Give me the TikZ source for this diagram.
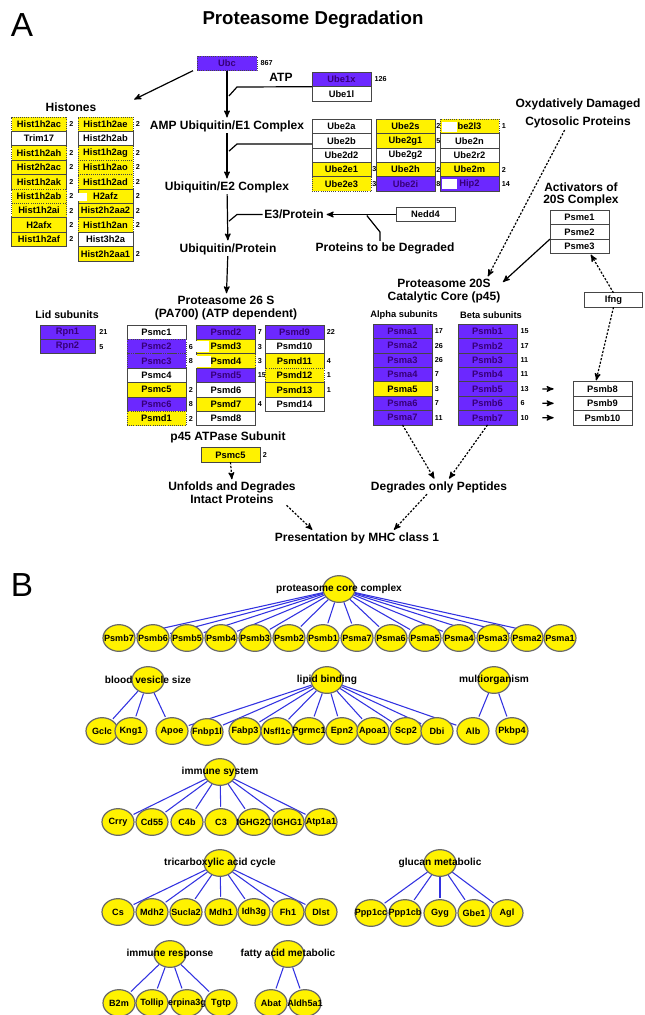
\documentclass[tikz,border=0pt]{standalone}
\usepackage{fontspec}
\setmainfont{Liberation Sans}
\usetikzlibrary{arrows,positioning,shapes.geometric}

\definecolor{pv}{RGB}{108,40,255}
\definecolor{pvtext}{RGB}{55,0,120}
\definecolor{boxline}{RGB}{70,70,70}
\definecolor{linkblue}{RGB}{50,50,225}
\definecolor{rim}{RGB}{105,105,105}

\pgfdeclarelayer{bg}
\pgfsetlayers{bg,main}

\begin{document}
\begin{tikzpicture}[x=0.75pt,y=-0.75pt,>=stealth',shorten >=1pt,node distance=10.8pt,
	box/.style={draw=boxline,line width=0.6pt,minimum width=44.25pt,minimum height=10.8pt,inner sep=0pt,outer sep=0pt,font=\fontsize{7}{8}\selectfont\bfseries},
	yel/.style={box,fill=yellow},
	pur/.style={box,fill=pv,text=pvtext},
	wht/.style={box,fill=white},
	dbox/.style={densely dotted},
	hist/.style={minimum width=41.25pt},
	num/.style={inner sep=0pt,font=\fontsize{5.4}{6}\selectfont\bfseries},
	lbl/.style={align=center,inner sep=1pt,font=\fontsize{9}{9.5}\selectfont\bfseries},
	subl/.style={inner sep=1pt,font=\fontsize{7}{8}\selectfont\bfseries},
	panel/.style={inner sep=0pt,font=\fontsize{25}{30}\selectfont},
	gene/.style={ellipse,draw=rim,fill=yellow,line width=0.9pt,minimum width=24pt,minimum height=20pt,inner sep=0pt},
	tl/.style={font=\fontsize{7.6}{9}\selectfont\bfseries},
	every label/.style={inner sep=0pt,font=\fontsize{6.8}{8}\selectfont\bfseries},
	link/.style={draw=linkblue,line width=0.8pt},
	flow/.style={->,line width=0.9pt},
	dar/.style={->,line width=0.9pt,dash pattern=on 1.6pt off 1.2pt}]

\begin{pgfonlayer}{bg}
\fill[white] (0,0) rectangle (644,1015);
\end{pgfonlayer}
\useasboundingbox (0,0) rectangle (644,1015);

\node[panel] (pa) at (22,25) {A};
\node[lbl,font=\fontsize{14}{16}\selectfont\bfseries] (title) at (313,20) {Proteasome Degradation};

\node[lbl] (hist) at (71,107) {Histones};
\node[yel,hist,dbox] (h1) at (39,124.2) {Hist1h2ac};
\node[wht,hist] (h2) [below of=h1] {Trim17};
\node[yel,hist,dbox] (h3) [below of=h2] {Hist1h2ah};
\node[yel,hist] (h4) [below of=h3] {Hist2h2ac};
\node[yel,hist] (h5) [below of=h4] {Hist1h2ak};
\node[yel,hist,dbox] (h6) [below of=h5] {Hist1h2ab};
\node[yel,hist,dbox] (h7) [below of=h6] {Hist1h2ai};
\node[yel,hist] (h8) [below of=h7] {H2afx};
\node[yel,hist] (h9) [below of=h8] {Hist1h2af};
\node[yel,hist,dbox] (h10) at (105.5,124.2) {Hist1h2ae};
\node[wht,hist] (h11) [below of=h10] {Hist2h2ab};
\node[yel,hist,dbox] (h12) [below of=h11] {Hist1h2ag};
\node[yel,hist,dbox] (h13) [below of=h12] {Hist1h2ao};
\node[yel,hist,dbox] (h14) [below of=h13] {Hist1h2ad};
\node[yel,hist] (h15) [below of=h14] {H2afz};
\node[yel,hist] (h16) [below of=h15] {Hist2h2aa2};
\node[yel,hist,dbox] (h17) [below of=h16] {Hist1h2an};
\node[wht,hist] (h18) [below of=h17] {Hist3h2a};
\node[yel,hist] (h19) [below of=h18] {Hist2h2aa1};
\fill[white] ([shift={(-0.5pt,1.5pt)}]h15.south west) rectangle +(7.5pt,6.5pt);
\node[num] (h1n) [right=2pt of h1] {2};
\node[num] (h3n) [right=2pt of h3] {2};
\node[num] (h4n) [right=2pt of h4] {2};
\node[num] (h5n) [right=2pt of h5] {2};
\node[num] (h6n) [right=2pt of h6] {2};
\node[num] (h7n) [right=2pt of h7] {2};
\node[num] (h8n) [right=2pt of h8] {2};
\node[num] (h9n) [right=2pt of h9] {2};
\node[num] (h10n) [right=2pt of h10] {2};
\node[num] (h12n) [right=2pt of h12] {2};
\node[num] (h13n) [right=2pt of h13] {2};
\node[num] (h14n) [right=2pt of h14] {2};
\node[num] (h15n) [right=2pt of h15] {2};
\node[num] (h16n) [right=2pt of h16] {2};
\node[num] (h17n) [right=2pt of h17] {2};
\node[num] (h19n) [right=2pt of h19] {2};

\node[pur,dbox,minimum width=45pt] (ubc) at (227,63.5) {Ubc};
\node[num] (ubcn) [right=2.5pt of ubc] {867};
\node[lbl] (atp) at (281,77) {ATP};
\node[pur] (ube1x) at (341.5,79.5) {Ube1x};
\node[wht] (ube1l) [below of=ube1x] {Ube1l};
\node[num] (ube1xn) [right=2.5pt of ube1x] {126};

\node[wht] (u1) at (341.5,126.3) {Ube2a};
\node[wht] (u2) [below of=u1] {Ube2b};
\node[wht] (u3) [below of=u2] {Ube2d2};
\node[yel] (u4) [below of=u3] {Ube2e1};
\node[yel,dbox] (u5) [below of=u4] {Ube2e3};
\node[yel] (u6) at (405.5,126.3) {Ube2s};
\node[yel] (u7) [below of=u6] {Ube2g1};
\node[wht] (u8) [below of=u7] {Ube2g2};
\node[yel] (u9) [below of=u8] {Ube2h};
\node[pur] (u10) [below of=u9] {Ube2i};
\node[yel,dbox] (u11) at (469.5,126.3) {be2l3};
\node[wht] (u12) [below of=u11] {Ube2n};
\node[wht] (u13) [below of=u12] {Ube2r2};
\node[yel] (u14) [below of=u13] {Ube2m};
\node[pur] (u15) [below of=u14] {Hip2};
\fill[white] ([shift={(1.5pt,1.5pt)}]u11.south west) rectangle +(11pt,7.5pt);
\fill[white] ([shift={(1.5pt,1.5pt)}]u15.south west) rectangle +(11.5pt,7.5pt);
\node[num] (u4n) [right=0.8pt of u4] {3};
\node[num] (u5n) [right=0.8pt of u5] {3};
\node[num] (u6n) [right=0.8pt of u6] {2};
\node[num] (u7n) [right=0.8pt of u7] {5};
\node[num] (u9n) [right=0.8pt of u9] {2};
\node[num] (u10n) [right=0.8pt of u10] {8};
\node[num] (u11n) [right=2pt of u11] {1};
\node[num] (u14n) [right=2pt of u14] {2};
\node[num] (u15n) [right=2pt of u15] {14};

\node[lbl] (e1) at (227,126) {AMP Ubiquitin/E1 Complex};
\node[lbl] (e2) at (227,187) {Ubiquitin/E2 Complex};
\node[lbl] (e3) at (294,214.5) {E3/Protein};
\node[lbl] (ubprot) at (228,249) {Ubiquitin/Protein};
\node[lbl] (ptd) at (385,248) {Proteins to be Degraded};
\node[wht] (nedd4) at (425.5,214.5) {Nedd4};
\node[lbl] (p26) at (226,308) {Proteasome 26 S\\(PA700) (ATP dependent)};

\coordinate (histin) at (133,100);
\coordinate (j1) at (228,97);
\coordinate (k1) at (237,87);
\coordinate (j2) at (228,152);
\coordinate (k2) at (237,144);
\coordinate (j3) at (228,222);
\coordinate (k3) at (237,214.5);
\coordinate (k4) at (380,232);
\coordinate (j4) at (366,214.5);

\draw[flow] ([xshift=-3pt]ubc.south west) -- (histin);
\draw[flow] (ubc) -- (e1);
\draw[flow] (e1) -- (e2);
\draw[flow] (e2) -- (ubprot);
\draw[flow] (ubprot) -- (p26);
\draw[line width=0.9pt] (ube1x.south west) -- (k1) -- (j1);
\draw[line width=0.9pt] ([yshift=-2.5pt]u2.west) -- (k2) -- (j2);
\draw[line width=0.9pt] (e3.west) -- (k3) -- (j3);
\draw[flow] (nedd4) -- (e3);
\draw[line width=0.9pt] (ptd.north -| k4) -- (k4) -- (j4);

\node[lbl,font=\fontsize{8}{9}\selectfont\bfseries] (lid) at (67,315) {Lid subunits};
\node[pur,hist] (rpn1) at (67.5,332.2) {Rpn1};
\node[pur,hist] (rpn2) [below of=rpn1] {Rpn2};
\node[num] (rpn1n) [right=3pt of rpn1] {21};
\node[num] (rpn2n) [right=3pt of rpn2] {5};

\node[wht] (pc1) at (156.5,332.2) {Psmc1};
\node[pur,dbox] (pc2) [below of=pc1] {Psmc2};
\node[pur,dbox] (pc3) [below of=pc2] {Psmc3};
\node[wht] (pc4) [below of=pc3] {Psmc4};
\node[yel] (pc5) [below of=pc4] {Psmc5};
\node[pur] (pc6) [below of=pc5] {Psmc6};
\node[yel,dbox] (pd1) [below of=pc6] {Psmd1};
\node[num] (pc2n) [right=2pt of pc2] {6};
\node[num] (pc3n) [right=2pt of pc3] {8};
\node[num] (pc5n) [right=2pt of pc5] {2};
\node[num] (pc6n) [right=2pt of pc6] {8};
\node[num] (pd1n) [right=2pt of pd1] {2};

\node[pur] (pd2) at (226,332.2) {Psmd2};
\node[yel] (pd3) [below of=pd2] {Psmd3};
\node[yel,dbox] (pd4) [below of=pd3] {Psmd4};
\node[pur] (pd5) [below of=pd4] {Psmd5};
\node[wht] (pd6) [below of=pd5] {Psmd6};
\node[yel] (pd7) [below of=pd6] {Psmd7};
\node[wht] (pd8) [below of=pd7] {Psmd8};
\fill[white] ([shift={(-0.5pt,1pt)}]pd3.south west) rectangle +(10pt,8.5pt);
\fill[white] ([shift={(-0.5pt,1pt)}]pd4.south west) rectangle +(11pt,8pt);
\node[num] (pd2n) [right=1.5pt of pd2] {7};
\node[num] (pd3n) [right=1.5pt of pd3] {3};
\node[num] (pd4n) [right=1.5pt of pd4] {3};
\node[num] (pd5n) [right=1.5pt of pd5] {15};
\node[num] (pd7n) [right=1.5pt of pd7] {4};

\node[pur] (pd9) at (294.5,332.2) {Psmd9};
\node[wht] (pd10) [below of=pd9] {Psmd10};
\node[yel] (pd11) [below of=pd10] {Psmd11};
\node[yel,dbox] (pd12) [below of=pd11] {Psmd12};
\node[yel] (pd13) [below of=pd12] {Psmd13};
\node[wht] (pd14) [below of=pd13] {Psmd14};
\node[num] (pd9n) [right=2pt of pd9] {22};
\node[num] (pd11n) [right=2pt of pd11] {4};
\node[num] (pd12n) [right=2pt of pd12] {1};
\node[num] (pd13n) [right=2pt of pd13] {1};

\node[lbl] (p45) at (228,437) {p45 ATPase Subunit};
\node[yel] (p45b) at (230.5,455) {Psmc5};
\node[num] (p45n) [right=2pt of p45b] {2};
\node[lbl] (unf) at (232,493) {Unfolds and Degrades\\Intact Proteins};
\node[lbl] (dop) at (439,487) {Degrades only Peptides};
\node[lbl] (mhc) at (357,538) {Presentation by MHC class 1};

\node[lbl] (oxy) at (578,113.5) {Oxydatively Damaged\\[4.5pt]Cytosolic Proteins};
\node[lbl] (act) at (581,194.5) {Activators of\\20S Complex};
\node[wht] (psme1) at (579.5,217.5) {Psme1};
\node[wht] (psme2) [below of=psme1] {Psme2};
\node[wht] (psme3) [below of=psme2] {Psme3};
\node[wht,minimum width=43pt] (ifng) at (613.5,300) {Ifng};

\node[lbl] (p20) at (444,291) {Proteasome 20S\\Catalytic Core (p45)};
\node[subl] (alpha) at (404,315) {Alpha subunits};
\node[subl] (beta) at (491,315) {Beta subunits};

\node[pur] (a1) at (402.5,331.3) {Psma1};
\node[pur] (a2) [below of=a1] {Psma2};
\node[pur] (a3) [below of=a2] {Psma3};
\node[pur] (a4) [below of=a3] {Psma4};
\node[yel] (a5) [below of=a4] {Psma5};
\node[pur] (a6) [below of=a5] {Psma6};
\node[pur] (a7) [below of=a6] {Psma7};
\node[num] (a1n) [right=2pt of a1] {17};
\node[num] (a2n) [right=2pt of a2] {26};
\node[num] (a3n) [right=2pt of a3] {26};
\node[num] (a4n) [right=2pt of a4] {7};
\node[num] (a5n) [right=2pt of a5] {3};
\node[num] (a6n) [right=2pt of a6] {7};
\node[num] (a7n) [right=2pt of a7] {11};

\node[pur] (b1) at (487.5,331.3) {Psmb1};
\node[pur] (b2) [below of=b1] {Psmb2};
\node[pur] (b3) [below of=b2] {Psmb3};
\node[pur] (b4) [below of=b3] {Psmb4};
\node[pur] (b5) [below of=b4] {Psmb5};
\node[pur] (b6) [below of=b5] {Psmb6};
\node[pur] (b7) [below of=b6] {Psmb7};
\node[num] (b1n) [right=2.5pt of b1] {15};
\node[num] (b2n) [right=2.5pt of b2] {17};
\node[num] (b3n) [right=2.5pt of b3] {11};
\node[num] (b4n) [right=2.5pt of b4] {11};
\node[num] (b5n) [right=2.5pt of b5] {13};
\node[num] (b6n) [right=2.5pt of b6] {6};
\node[num] (b7n) [right=2.5pt of b7] {10};

\node[wht] (p8) at (602.5,388.9) {Psmb8};
\node[wht] (p9) [below of=p8] {Psmb9};
\node[wht] (p10) [below of=p9] {Psmb10};

\draw[dar] ([xshift=-10pt]oxy.south) -- ([xshift=-11pt]p20.north east);
\draw[flow] (psme2.south west) -- ([yshift=-4pt]p20.north east);
\draw[dar] (ifng.north) -- ([xshift=8pt]psme3.south);
\draw[dar] (ifng.south) -- ([xshift=-5pt]p8.north);
\draw[flow] ([xshift=19pt]b5.east) -- ([xshift=-13.5pt]p8.west);
\draw[flow] ([xshift=19pt]b6.east) -- ([xshift=-13.5pt]p9.west);
\draw[flow] ([xshift=19pt]b7.east) -- ([xshift=-13.5pt]p10.west);
\draw[dar] (a7.south) -- ([xshift=-3pt]dop.north);
\draw[dar] (b7.south) -- ([xshift=7pt]dop.north);
\draw[dar] (p45b.south) -- (unf.north);
\draw[dar] ([xshift=-8pt]unf.south east) -- ([xshift=30pt]mhc.north west);
\draw[dar] ([xshift=-9pt]dop.south) -- ([xshift=27pt]mhc.north);

\node[panel] (pb) at (22,585) {B};

\node[gene,label={[tl]center:proteasome core complex}] (pcc) at (339,589) {};
\node[gene,label=center:Psmb7] (cb7) at (119,638) {};
\node[gene,label=center:Psmb6] (cb6) at (153,638) {};
\node[gene,label=center:Psmb5] (cb5) at (187,638) {};
\node[gene,label=center:Psmb4] (cb4) at (221,638) {};
\node[gene,label=center:Psmb3] (cb3) at (255,638) {};
\node[gene,label=center:Psmb2] (cb2) at (289,638) {};
\node[gene,label=center:Psmb1] (cb1) at (323,638) {};
\node[gene,label=center:Psma7] (ca7) at (357,638) {};
\node[gene,label=center:Psma6] (ca6) at (391,638) {};
\node[gene,label=center:Psma5] (ca5) at (425,638) {};
\node[gene,label=center:Psma4] (ca4) at (459,638) {};
\node[gene,label=center:Psma3] (ca3) at (493,638) {};
\node[gene,label=center:Psma2] (ca2) at (527,638) {};
\node[gene,label=center:Psma1] (ca1) at (560,638) {};

\node[gene,label={[tl]center:blood vesicle size}] (bvs) at (148,680) {};
\node[gene,label={[tl]center:lipid binding}] (lipid) at (327,680) {};
\node[gene,label={[tl]center:multiorganism}] (morg) at (494,680) {};
\node[gene,label=center:Gclc] (gclc) at (102,731) {};
\node[gene,label=center:Kng1] (kng1) at (131,731) {};
\node[gene,label=center:Apoe] (apoe) at (172,731) {};
\node[gene,label=center:Fnbp1l] (fnbp) at (207,732) {};
\node[gene,label=center:Fabp3] (fabp3) at (245,731) {};
\node[gene,label=center:Nsfl1c] (nsfl) at (277,731) {};
\node[gene,label=center:Pgrmc1] (pgrmc) at (309,731) {};
\node[gene,label=center:Epn2] (epn2) at (342,731) {};
\node[gene,label=center:Apoa1] (apoa1) at (373,731) {};
\node[gene,label=center:Scp2] (scp2) at (406,731) {};
\node[gene,label=center:Dbi] (dbi) at (437,731) {};
\node[gene,label=center:Alb] (alb) at (473,731) {};
\node[gene,label=center:Pkbp4] (pkbp4) at (512,731) {};

\node[gene,label={[tl]center:immune system}] (imsys) at (220,772) {};
\node[gene,label=center:Crry] (crry) at (118,822) {};
\node[gene,label=center:Cd55] (cd55) at (152,822) {};
\node[gene,label=center:C4b] (c4b) at (187,822) {};
\node[gene,label=center:C3] (c3) at (221,822) {};
\node[gene,label=center:IGHG2C] (ighga) at (254,822) {};
\node[gene,label=center:IGHG1] (ighgb) at (288,822) {};
\node[gene,label=center:Atp1a1] (atp1a1) at (321,822) {};

\node[gene,label={[tl]center:tricarboxylic acid cycle}] (tca) at (220,863) {};
\node[gene,label=center:Cs] (cs) at (118,912) {};
\node[gene,label=center:Mdh2] (mdh2) at (152,912) {};
\node[gene,label=center:Sucla2] (sucla2) at (186,912) {};
\node[gene,label=center:Mdh1] (mdh1) at (221,912) {};
\node[gene,label=center:Idh3g] (idh3g) at (254,912) {};
\node[gene,label=center:Fh1] (fh1) at (288,912) {};
\node[gene,label=center:Dlst] (dlst) at (321,912) {};

\node[gene,label={[tl]center:glucan metabolic}] (glucan) at (440,863) {};
\node[gene,label=center:Ppp1cc] (ppp1cc) at (371,913) {};
\node[gene,label=center:Ppp1cb] (ppp1cb) at (405,913) {};
\node[gene,label=center:Gyg] (gyg) at (440,913) {};
\node[gene,label=center:Gbe1] (gbe1) at (474,913) {};
\node[gene,label=center:Agl] (agl) at (507,913) {};

\node[gene,label={[tl]center:immune response}] (imresp) at (170,954) {};
\node[gene,label=center:B2m] (b2m) at (119,1003) {};
\node[gene,label=center:Tollip] (tollip) at (152,1003) {};
\node[gene,label=center:erpina3g] (serp) at (187,1003) {};
\node[gene,label=center:Tgtp] (tgtp) at (221,1003) {};

\node[gene,label={[tl]center:fatty acid metabolic}] (fatty) at (288,954) {};
\node[gene,label=center:Abat] (abat) at (271,1003) {};
\node[gene,label=center:Aldh5a1] (aldh) at (305,1003) {};

\begin{pgfonlayer}{bg}
\path[link] (pcc) edge (cb7) edge (cb6) edge (cb5) edge (cb4) edge (cb3) edge (cb2) edge (cb1)
		edge (ca7) edge (ca6) edge (ca5) edge (ca4) edge (ca3) edge (ca2) edge (ca1);
\path[link] (bvs) edge (gclc) edge (kng1) edge (apoe)
	(lipid) edge (apoe) edge (fnbp) edge (fabp3) edge (nsfl) edge (pgrmc) edge (epn2)
		edge (apoa1) edge (scp2) edge (dbi) edge (alb)
	(morg) edge (alb) edge (pkbp4);
\path[link] (imsys) edge (crry) edge (cd55) edge (c4b) edge (c3) edge (ighga) edge (ighgb) edge (atp1a1);
\path[link] (tca) edge (cs) edge (mdh2) edge (sucla2) edge (mdh1) edge (idh3g) edge (fh1) edge (dlst);
\path[link] (glucan) edge (ppp1cc) edge (ppp1cb) edge (gyg) edge (gbe1) edge (agl);
\path[link] (imresp) edge (b2m) edge (tollip) edge (serp) edge (tgtp)
	(fatty) edge (abat) edge (aldh);
\end{pgfonlayer}

\end{tikzpicture}
\end{document}
